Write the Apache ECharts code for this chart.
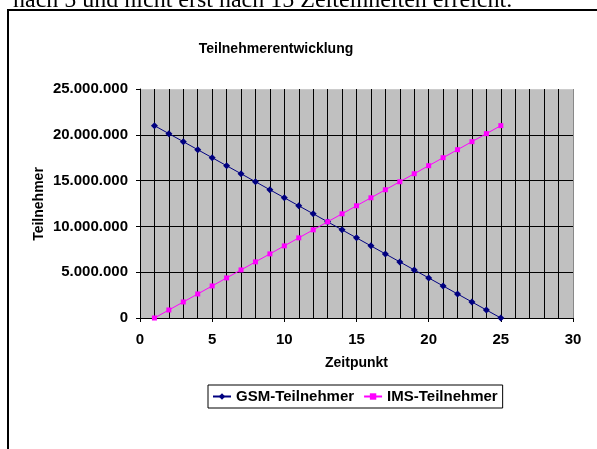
<!DOCTYPE html>
<html><head><meta charset="utf-8">
<script src="https://cdn.jsdelivr.net/npm/echarts@6/dist/echarts.min.js"></script>
<style>html,body{margin:0;padding:0;background:#fff;}#c{width:597px;height:449px;}</style>
</head><body><div id="c"></div>
<script>
const zeitpunkt = [1,2,3,4,5,6,7,8,9,10,11,12,13,14,15,16,17,18,19,20,21,22,23,24,25];
const gsm = [21000000,20125000,19250000,18375000,17500000,16625000,15750000,14875000,14000000,13125000,12250000,11375000,10500000,9625000,8750000,7875000,7000000,6125000,5250000,4375000,3500000,2625000,1750000,875000,0];
const ims = [0,875000,1750000,2625000,3500000,4375000,5250000,6125000,7000000,7875000,8750000,9625000,10500000,11375000,12250000,13125000,14000000,14875000,15750000,16625000,17500000,18375000,19250000,20125000,21000000];
const seriesNames = ['GSM-Teilnehmer','IMS-Teilnehmer'];
const titleText = 'Teilnehmerentwicklung';
const yName = 'Teilnehmer';
const xName = 'Zeitpunkt';
const topText = 'nach 5 und nicht erst nach 15 Zeiteinheiten erreicht.';

const F = '"Liberation Sans", Arial, sans-serif';
function fmt(v){ return String(Math.round(v)).replace(/\B(?=(\d{3})+(?!\d))/g,'.'); }
const chart = echarts.init(document.getElementById('c'));
chart.setOption({
  animation:false,
  backgroundColor:'#fff',
  graphic:[
    {type:'polyline', shape:{points:[[8,449],[8,10],[597,10]]}, style:{stroke:'#000', lineWidth:2, fill:null}},
    {type:'text', x:13, y:1, style:{text:topText, font:'24px "Liberation Serif", "Times New Roman", serif', fill:'#000', align:'left', verticalAlign:'middle'}},
    {type:'text', x:276, y:49, style:{text:titleText, font:'bold 14px '+F, fill:'#000', align:'center', verticalAlign:'middle'}},
    {type:'text', x:39, y:204, rotation:Math.PI/2, style:{text:yName, font:'bold 14px '+F, fill:'#000', align:'center', verticalAlign:'middle'}}
  ],
  grid:{left:140, right:24, top:89, bottom:131, show:true, backgroundColor:'#C0C0C0', borderWidth:0},
  legend:{
    left:208, top:385, orient:'horizontal',
    borderColor:'#000', borderWidth:1, backgroundColor:'#fff',
    padding:[4,5,4,4], itemWidth:18, itemHeight:8, itemGap:9,
    textStyle:{fontFamily:F, fontWeight:'bold', fontSize:15, color:'#000'},
    data:seriesNames
  },
  xAxis:{
    type:'value', min:0, max:30, interval:5,
    name:xName, nameLocation:'middle', nameGap:38,
    nameTextStyle:{fontFamily:F, fontWeight:'bold', fontSize:14, color:'#000'},
    axisLine:{show:true, lineStyle:{color:'#000', width:1}},
    axisTick:{show:true, inside:false, length:4, lineStyle:{color:'#000'}},
    axisLabel:{fontFamily:F, fontWeight:'bold', fontSize:15, color:'#000', margin:14},
    splitLine:{show:true, lineStyle:{color:['#000','#000','#000','#000','#000','#000','#888'], width:1}},
    minorTick:{show:false, splitNumber:5},
    minorSplitLine:{show:true, lineStyle:{color:'#000', width:1}}
  },
  yAxis:{
    type:'value', min:0, max:25000000, interval:5000000,
    axisLine:{show:true, lineStyle:{color:'#000', width:1}},
    axisTick:{show:true, inside:false, length:4, lineStyle:{color:'#000'}},
    axisLabel:{fontFamily:F, fontWeight:'bold', fontSize:15, color:'#000', margin:12, formatter:fmt},
    splitLine:{show:true, lineStyle:{color:['#000','#000','#000','#000','#000','#ccc'], width:1}}
  },
  series:[
    {name:seriesNames[0], type:'line', data:zeitpunkt.map((t,i)=>[t,gsm[i]]),
     symbol:'diamond', symbolSize:7, itemStyle:{color:'#000080'}, lineStyle:{color:'#000080', width:1}},
    {name:seriesNames[1], type:'line', data:zeitpunkt.map((t,i)=>[t,ims[i]]),
     symbol:'rect', symbolSize:5, itemStyle:{color:'#FF00FF'}, lineStyle:{color:'#FF00FF', width:1}}
  ]
});
</script></body></html>
